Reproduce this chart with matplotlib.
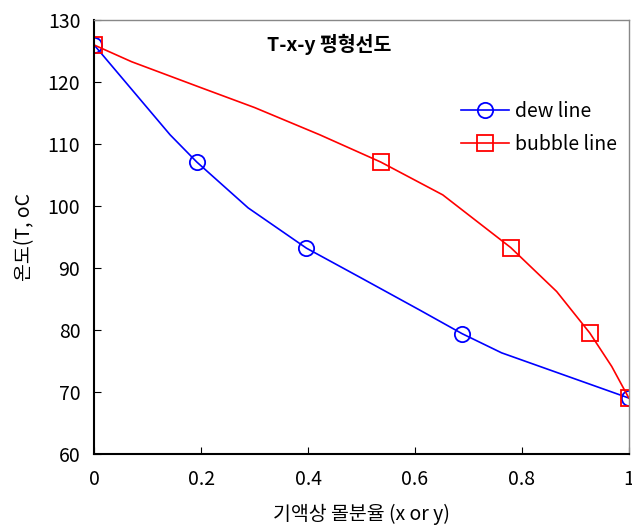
import matplotlib
matplotlib.use('Agg')
import matplotlib.pyplot as plt

plt.rcParams['font.family'] = ['Noto Sans CJK KR', 'DejaVu Sans']

# dew line (vapour composition y vs T)
dewX = [0.0, 0.142, 0.192, 0.288, 0.397, 0.497, 0.609, 0.688, 0.762, 1.0]
dewT = [126.0, 111.5, 107.1, 99.7, 93.2, 88.5, 83.2, 79.4, 76.3, 69.0]
dewMarks = [0, 2, 4, 7, 9]

# bubble line (liquid composition x vs T)
bubX = [0.0, 0.07, 0.2, 0.3, 0.422, 0.536, 0.652, 0.779, 0.865, 0.927, 0.968, 1.0]
bubT = [126.0, 123.3, 119.1, 115.9, 111.5, 107.1, 101.8, 93.3, 86.2, 79.5, 74.1, 69.0]
bubMarks = [0, 5, 7, 9, 11]

xTicks = [0, 0.2, 0.4, 0.6, 0.8, 1]
xTickLabels = ['0', '0.2', '0.4', '0.6', '0.8', '1']
yTicks = [60, 70, 80, 90, 100, 110, 120, 130]

fig = plt.figure(figsize=(6.32, 5.32), dpi=100)
ax = fig.add_axes([0.149, 0.147, 0.846, 0.815])

ax.plot(dewX, dewT, color='blue', lw=1.2, marker='o', markevery=dewMarks,
        markersize=11, markerfacecolor='none', markeredgecolor='blue',
        markeredgewidth=1.3, label='dew line')
ax.plot(bubX, bubT, color='red', lw=1.2, marker='s', markevery=bubMarks,
        markersize=11, markerfacecolor='none', markeredgecolor='red',
        markeredgewidth=1.3, label='bubble line')

ax.set_xlim(0, 1)
ax.set_ylim(60, 130)
ax.set_xticks(xTicks)
ax.set_xticklabels(xTickLabels)
ax.set_yticks(yTicks)
ax.tick_params(direction='in', length=5, labelsize=14, pad=11, top=False, right=False)
ax.tick_params(axis='y', pad=10)

for side in ['left', 'bottom']:
    ax.spines[side].set_color('black')
    ax.spines[side].set_linewidth(1.5)
for side in ['top', 'right']:
    ax.spines[side].set_color('#888888')
    ax.spines[side].set_linewidth(1.0)

ax.text(0.44, 0.945, 'T-x-y 평형선도', transform=ax.transAxes, ha='center', va='center',
        fontsize=14, fontweight='bold')

ax.set_xlabel('기액상 몰분율 (x or y)', fontsize=14, labelpad=10)
ax.set_ylabel('온도(T, oC', fontsize=14, labelpad=9)

ax.legend(loc='upper right', bbox_to_anchor=(1.0, 0.84), frameon=False, fontsize=14,
          handlelength=2.5, handletextpad=0.3, labelspacing=0.6, borderaxespad=0.2)

fig.savefig('out.png', dpi=100)
